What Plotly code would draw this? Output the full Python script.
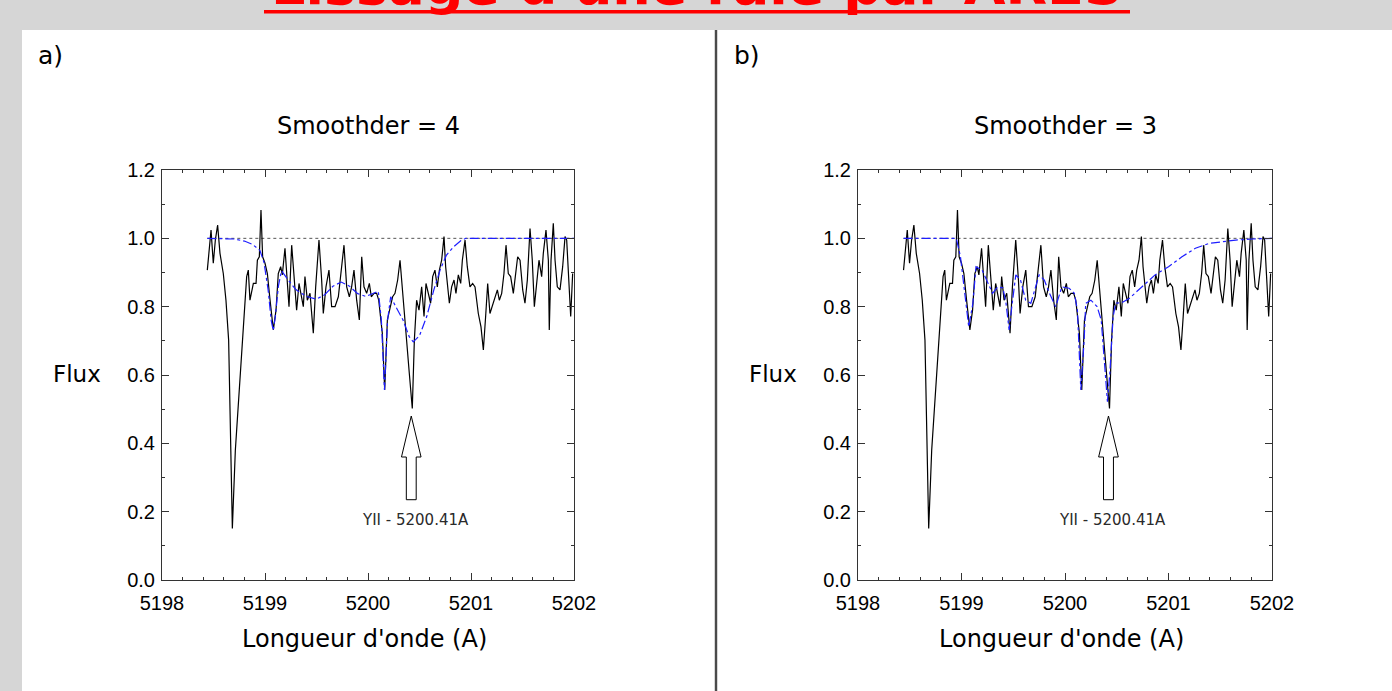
import plotly.graph_objects as go

W, H = 1392, 691

# observed spectrum (same in both panels)
wavelength = [
    5198.440, 5198.476, 5198.498, 5198.518, 5198.540, 5198.563, 5198.595, 5198.621,
    5198.647, 5198.660, 5198.676, 5198.683, 5198.712, 5198.741, 5198.783, 5198.803,
    5198.822, 5198.838, 5198.854, 5198.887, 5198.913, 5198.926, 5198.945, 5198.961,
    5198.977, 5199.000, 5199.023, 5199.049, 5199.081, 5199.107, 5199.129, 5199.152,
    5199.168, 5199.194, 5199.210, 5199.233, 5199.259, 5199.282, 5199.307, 5199.330,
    5199.350, 5199.372, 5199.388, 5199.411, 5199.437, 5199.469, 5199.492, 5199.524,
    5199.550, 5199.566, 5199.592, 5199.621, 5199.647, 5199.680, 5199.712, 5199.744,
    5199.767, 5199.793, 5199.819, 5199.841, 5199.864, 5199.890, 5199.916, 5199.939,
    5199.961, 5199.987, 5200.013, 5200.032, 5200.058, 5200.084, 5200.104, 5200.139,
    5200.162, 5200.188, 5200.214, 5200.239, 5200.262, 5200.288, 5200.311, 5200.333,
    5200.359, 5200.382, 5200.401, 5200.430, 5200.450, 5200.472, 5200.495, 5200.521,
    5200.544, 5200.563, 5200.586, 5200.608, 5200.628, 5200.650, 5200.673, 5200.693,
    5200.715, 5200.738, 5200.754, 5200.773, 5200.790, 5200.812, 5200.835, 5200.854,
    5200.877, 5200.900, 5200.916, 5200.942, 5200.964, 5200.990, 5201.016, 5201.039,
    5201.071, 5201.097, 5201.120, 5201.142, 5201.162, 5201.184, 5201.207, 5201.233,
    5201.256, 5201.275, 5201.298, 5201.320, 5201.340, 5201.362, 5201.385, 5201.411,
    5201.434, 5201.453, 5201.476, 5201.502, 5201.524, 5201.547, 5201.573, 5201.595,
    5201.615, 5201.638, 5201.660, 5201.686, 5201.702, 5201.728, 5201.751, 5201.760,
    5201.777, 5201.799, 5201.816, 5201.838, 5201.864, 5201.890, 5201.913, 5201.929,
    5201.948, 5201.968, 5201.987,
]
flux = [
    0.907, 1.024, 0.927, 0.995, 1.039, 0.956, 0.897, 0.819,
    0.702, 0.517, 0.273, 0.151, 0.380, 0.507, 0.702, 0.790,
    0.888, 0.907, 0.819, 0.868, 0.868, 0.936, 0.946, 1.083,
    0.946, 0.927, 0.897, 0.819, 0.732, 0.790, 0.897, 0.917,
    0.893, 0.971, 0.907, 0.800, 0.980, 0.897, 0.790, 0.868,
    0.839, 0.800, 0.888, 0.819, 0.839, 0.722, 0.858, 0.995,
    0.878, 0.780, 0.858, 0.907, 0.800, 0.800, 0.829, 0.927,
    0.980, 0.858, 0.829, 0.858, 0.907, 0.819, 0.761, 0.946,
    0.858, 0.839, 0.868, 0.829, 0.839, 0.839, 0.819, 0.722,
    0.556, 0.761, 0.800, 0.829, 0.839, 0.878, 0.936, 0.849,
    0.761, 0.683, 0.605, 0.502, 0.702, 0.819, 0.790, 0.858,
    0.771, 0.868, 0.839, 0.810, 0.888, 0.907, 0.858, 0.907,
    0.936, 1.005, 0.917, 0.858, 0.810, 0.858, 0.878, 0.839,
    0.893, 0.868, 0.936, 0.995, 0.917, 0.858, 0.868, 0.858,
    0.780, 0.741, 0.673, 0.771, 0.868, 0.780, 0.800, 0.829,
    0.849, 0.819, 0.839, 0.897, 0.980, 0.897, 0.888, 0.839,
    0.907, 0.946, 0.936, 0.849, 0.810, 0.878, 1.029, 0.936,
    0.800, 0.868, 0.936, 0.888, 0.956, 1.024, 0.936, 0.732,
    0.936, 1.044, 0.936, 0.858, 0.849, 0.917, 1.005, 0.995,
    0.878, 0.771, 0.897,
]

# ARES fit, smoothder = 4
fit4_wl = [
    5198.44, 5198.60, 5198.70, 5198.80, 5198.88, 5198.95, 5198.99, 5199.03, 5199.06,
    5199.08, 5199.10, 5199.13, 5199.16, 5199.22, 5199.30, 5199.40, 5199.50, 5199.58,
    5199.66, 5199.74, 5199.82, 5199.90, 5199.98, 5200.06, 5200.10, 5200.13, 5200.16,
    5200.19, 5200.22, 5200.27, 5200.34, 5200.40, 5200.44, 5200.50, 5200.57, 5200.64,
    5200.70, 5200.76, 5200.83, 5200.90, 5200.95, 5202.00,
]
fit4_flux = [
    1.000, 1.000, 0.998, 0.992, 0.982, 0.965, 0.930, 0.850, 0.760,
    0.730, 0.770, 0.860, 0.905, 0.880, 0.850, 0.830, 0.822, 0.835,
    0.860, 0.872, 0.860, 0.838, 0.830, 0.840, 0.845, 0.760, 0.556,
    0.760, 0.829, 0.800, 0.761, 0.712, 0.697, 0.715, 0.771, 0.850,
    0.907, 0.950, 0.975, 0.993, 1.000, 1.000,
]

# ARES fit, smoothder = 3
fit3_wl = [
    5198.44, 5198.95, 5198.99, 5199.04, 5199.07, 5199.11, 5199.14, 5199.20, 5199.30,
    5199.35, 5199.40, 5199.43, 5199.46, 5199.49, 5199.525, 5199.57, 5199.62, 5199.67,
    5199.72, 5199.75, 5199.80, 5199.85, 5199.91, 5199.97, 5200.04, 5200.09, 5200.12,
    5200.153, 5200.185, 5200.20, 5200.25, 5200.31, 5200.35, 5200.38, 5200.41, 5200.433,
    5200.45, 5200.465, 5200.49, 5200.55, 5200.62, 5200.74, 5200.87, 5201.00, 5201.13,
    5201.26, 5201.39, 5201.52, 5201.65, 5201.81, 5202.00,
]
fit3_flux = [
    1.000, 1.000, 0.946, 0.820, 0.741, 0.810, 0.917, 0.907, 0.839,
    0.858, 0.855, 0.810, 0.732, 0.810, 0.893, 0.878, 0.819, 0.810,
    0.858, 0.893, 0.878, 0.839, 0.800, 0.858, 0.854, 0.839, 0.790,
    0.556, 0.702, 0.810, 0.819, 0.800, 0.761, 0.644, 0.522, 0.605,
    0.702, 0.771, 0.810, 0.812, 0.824, 0.858, 0.893, 0.917, 0.946,
    0.971, 0.985, 0.990, 0.995, 0.998, 1.000,
]

continuum_wl = [5198.44, 5202.0]
continuum = [1.0, 1.0]

line_label = "YII - 5200.41A"
line_wl = 5200.42
panels = ["a)", "b)"]
titles = ["Smoothder = 4", "Smoothder = 3"]
fits = [(fit4_wl, fit4_flux), (fit3_wl, fit3_flux)]


def fx(p):
    return p / W


def fy(p):
    return 1 - p / H


def arrow(x0, tip, base):
    # hollow arrow pointing up at the line
    xs = [x0, x0 + 0.095, x0 + 0.048, x0 + 0.048, x0 - 0.048, x0 - 0.048, x0 - 0.095, x0]
    ys = [tip, tip - 0.12, tip - 0.12, base, base, tip - 0.12, tip - 0.12, tip]
    return xs, ys


fig = go.Figure()

plot_x = [(162, 574), (858, 1272)]
panel_x = [(22, 714), (718, W)]
ann = []
shapes = []
txt = dict(family="DejaVu Sans", size=24, color="black")

for i in range(2):
    xa = "x" if i == 0 else "x2"
    ya = "y" if i == 0 else "y2"
    fw, ff = fits[i]
    fig.add_trace(go.Scatter(x=continuum_wl, y=continuum, mode="lines", xaxis=xa, yaxis=ya,
                             line=dict(color="#555", width=1, dash="dot")))
    fig.add_trace(go.Scatter(x=wavelength, y=flux, mode="lines", xaxis=xa, yaxis=ya,
                             line=dict(color="black", width=1.2)))
    fig.add_trace(go.Scatter(x=fw, y=ff, mode="lines", xaxis=xa, yaxis=ya,
                             line=dict(color="rgb(30,30,255)", width=1.2, dash="dashdot")))
    ax, ay = arrow(line_wl, 0.48, 0.235)
    fig.add_trace(go.Scatter(x=ax, y=ay, mode="lines", xaxis=xa, yaxis=ya,
                             line=dict(color="black", width=1)))
    ann.append(dict(x=line_wl + 0.04, y=0.175, xref=xa, yref=ya, text=line_label,
                    showarrow=False, font=dict(family="DejaVu Sans", size=15, color="#2a2a2a")))

    x0, x1 = plot_x[i]
    cx = (x0 + x1) / 2
    shapes.append(dict(type="rect", xref="paper", yref="paper", layer="below",
                       x0=fx(panel_x[i][0]), x1=fx(panel_x[i][1]), y0=-0.05, y1=fy(30),
                       fillcolor="white", line=dict(width=0)))
    ann += [
        dict(x=fx(panel_x[i][0] + 14), y=fy(55), text=panels[i], xanchor="left",
             font=dict(txt, size=25)),
        dict(x=fx(cx), y=fy(126), text=titles[i], xanchor="center", font=txt),
        dict(x=fx(x0 - 59), y=fy(374), text="Flux", xanchor="right", font=dict(txt, size=23)),
        dict(x=fx(cx - 4), y=fy(639), text="Longueur d'onde (A)", xanchor="center", font=txt),
    ]

for a in ann:
    if a.get("xref") is None:
        a.update(xref="paper", yref="paper", yanchor="middle", showarrow=False)

shapes.append(dict(type="line", xref="paper", yref="paper", x0=fx(716), x1=fx(716),
                   y0=-0.05, y1=fy(30), line=dict(color="#4a4a4a", width=2)))
# title underline
shapes.append(dict(type="rect", xref="paper", yref="paper", x0=fx(264), x1=fx(1130),
                   y0=fy(13.5), y1=fy(10), fillcolor="red", line=dict(width=0)))
ann.append(dict(x=fx(697), y=fy(-15), xref="paper", yref="paper", xanchor="center",
                yanchor="middle", text="<b>Lissage d'une raie par ARES</b>", showarrow=False,
                font=dict(family="DejaVu Sans", size=54, color="red")))

axis_common = dict(showgrid=False, zeroline=False, showline=True, linecolor="#333", linewidth=1,
                   mirror="ticks", ticks="inside", tickcolor="#333", ticklen=7, automargin=False,
                   tickfont=dict(family="Liberation Sans", size=20, color="black"))
xcommon = dict(axis_common, range=[5198, 5202], tickvals=[5198, 5199, 5200, 5201, 5202],
               minor=dict(dtick=0.2, ticks="inside", ticklen=3, tickcolor="#333"),
               ticklabelstandoff=5)
ycommon = dict(axis_common, range=[0, 1.2], dtick=0.2, tickformat=".1f",
               minor=dict(dtick=0.1, ticks="inside", ticklen=3, tickcolor="#333"),
               ticklabelstandoff=2)

fig.update_layout(
    width=W, height=H, autosize=False, margin=dict(l=0, r=0, t=0, b=0, pad=0),
    paper_bgcolor="rgb(214,214,214)", plot_bgcolor="white", showlegend=False,
    xaxis=dict(xcommon, domain=[fx(162), fx(574)], anchor="y"),
    yaxis=dict(ycommon, domain=[fy(580), fy(170)], anchor="x"),
    xaxis2=dict(xcommon, domain=[fx(858), fx(1272)], anchor="y2"),
    yaxis2=dict(ycommon, domain=[fy(580), fy(170)], anchor="x2"),
    annotations=ann, shapes=shapes,
)

fig.write_html("out.html", config={"displayModeBar": False},
               post_script="document.body.style.margin='0';")
